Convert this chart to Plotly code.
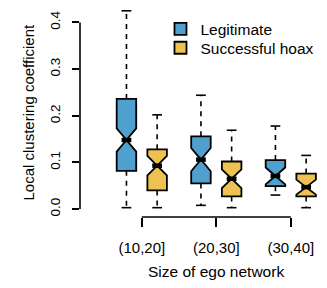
import plotly.graph_objects as go

# ---- data ----
groups = ["(10,20]", "(20,30]", "(30,40]"]
group_pos = [1, 2, 3]
series_names = ["Legitimate", "Successful hoax"]

legit_lower = [0.003, 0.008, 0.030]
legit_q1 = [0.082, 0.055, 0.049]
legit_median = [0.148, 0.106, 0.071]
legit_q3 = [0.236, 0.156, 0.105]
legit_upper = [0.425, 0.244, 0.178]
legit_notch = [0.025, 0.025, 0.018]

hoax_lower = [0.003, 0.003, 0.003]
hoax_q1 = [0.040, 0.027, 0.027]
hoax_median = [0.093, 0.065, 0.047]
hoax_q3 = [0.128, 0.102, 0.076]
hoax_upper = [0.202, 0.169, 0.115]
hoax_notch = [0.021, 0.020, 0.016]

y_ticks = [0.0, 0.1, 0.2, 0.3, 0.4]
y_ticktext = ["0.0", "0.1", "0.2", "0.3", "0.4"]

# ---- style ----
FONT = "Liberation Sans, Arial, sans-serif"
BLUE = "#4FA0CE"
YELLOW = "#EEC153"
OFFSET = 0.206
BOXW = 0.262
XR = [0.1705, 3.419]

fig = go.Figure()

series = [
    (series_names[0], "legend", -OFFSET, BLUE, legit_lower, legit_q1, legit_median, legit_q3, legit_upper, legit_notch),
    (series_names[1], "legend2", OFFSET, YELLOW, hoax_lower, hoax_q1, hoax_median, hoax_q3, hoax_upper, hoax_notch),
]

for name, leg, off, col, lo, q1, med, q3, up, notch in series:
    xs = [g + off for g in group_pos]
    fig.add_trace(go.Box(
        name=name, legend=leg, x=xs, q1=q1, median=med, q3=q3,
        lowerfence=q1, upperfence=q3, notchspan=notch,
        notched=True, notchwidth=0.5, width=BOXW,
        fillcolor=col, line=dict(color="black", width=1.8),
        whiskerwidth=0, boxpoints=False, hoverinfo="skip",
    ))

for name, leg, off, col, lo, q1, med, q3, up, notch in series:
    xs = [g + off for g in group_pos]
    wx, wy, cx, cy, mx, my = [], [], [], [], [], []
    for x, a, b, m, c, d in zip(xs, lo, q1, med, q3, up):
        wx += [x, x, None, x, x, None]
        wy += [c, d, None, b, a, None]
        cx += [x - BOXW / 4, x + BOXW / 4, None, x - BOXW / 4, x + BOXW / 4, None]
        cy += [d, d, None, a, a, None]
        mx += [x - BOXW / 4, x + BOXW / 4, None]
        my += [m, m, None]
    fig.add_trace(go.Scatter(x=wx, y=wy, mode="lines", showlegend=False, hoverinfo="skip",
                             cliponaxis=False,
                             line=dict(color="black", width=1.6, dash="5px,5px")))
    fig.add_trace(go.Scatter(x=cx, y=cy, mode="lines", showlegend=False, hoverinfo="skip",
                             cliponaxis=False,
                             line=dict(color="black", width=1.6)))
    fig.add_trace(go.Scatter(x=mx, y=my, mode="lines", showlegend=False, hoverinfo="skip",
                             line=dict(color="black", width=4.5)))

# R-style axis lines
fig.add_shape(type="line", xref="paper", yref="y", x0=0, x1=0, y0=y_ticks[0], y1=y_ticks[-1],
              line=dict(color="black", width=1.6))
fig.add_shape(type="line", xref="x", yref="paper", x0=group_pos[0], x1=group_pos[-1], y0=0, y1=0,
              line=dict(color="black", width=1.6))

fig.add_annotation(text="Local clustering coefficient", xref="paper", yref="paper",
                   x=0, y=0.5, xanchor="center", yanchor="middle", xshift=-52,
                   textangle=-90, showarrow=False, font=dict(family=FONT, size=15, color="black"))
fig.add_annotation(text="Size of ego network", xref="paper", yref="paper",
                   x=(2 - XR[0]) / (XR[1] - XR[0]), y=0, xanchor="center", yanchor="middle",
                   yshift=-54, showarrow=False, font=dict(family=FONT, size=15.5, color="black"))

legend_common = dict(xanchor="left", yanchor="top",
                     font=dict(family=FONT, size=15.5, color="black"),
                     bgcolor="rgba(0,0,0,0)")

fig.update_layout(
    width=319, height=280,
    margin=dict(l=72, r=5, t=0, b=71),
    plot_bgcolor="white", paper_bgcolor="white",
    font=dict(family=FONT, color="black"),
    showlegend=True,
    legend=dict(x=0.3326, y=0.979, **legend_common),
    legend2=dict(x=0.3326, y=0.889, **legend_common),
    xaxis=dict(range=XR, showgrid=False, zeroline=False, showline=False,
               tickmode="array", tickvals=group_pos, ticktext=groups,
               ticks="outside", ticklen=9, tickwidth=1.6, tickcolor="black",
               ticklabelstandoff=8,
               tickfont=dict(family=FONT, size=15, color="black")),
    yaxis=dict(range=[-0.017, 0.431], showgrid=False, zeroline=False, showline=False,
               tickmode="array", tickvals=y_ticks, ticktext=y_ticktext, tickangle=-90,
               ticks="outside", ticklen=7, tickwidth=1.6, tickcolor="black",
               ticklabelstandoff=7,
               tickfont=dict(family=FONT, size=13.5, color="black")),
)

fig.write_html("out.html")
